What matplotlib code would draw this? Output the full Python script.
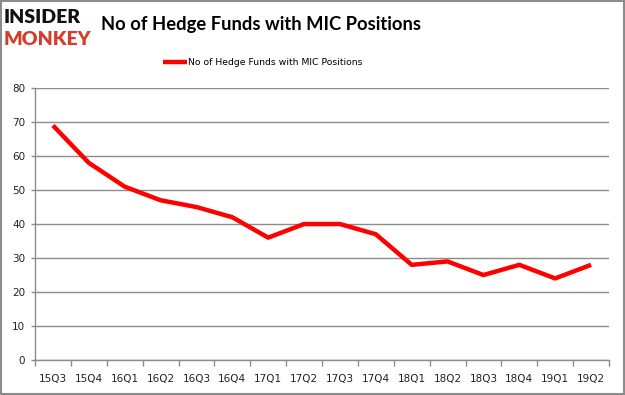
import matplotlib
matplotlib.use("Agg")
import matplotlib.pyplot as plt
from matplotlib.patches import Rectangle

quarters = ["15Q3", "15Q4", "16Q1", "16Q2", "16Q3", "16Q4", "17Q1", "17Q2",
            "17Q3", "17Q4", "18Q1", "18Q2", "18Q3", "18Q4", "19Q1", "19Q2"]
funds = [69, 58, 51, 47, 45, 42, 36, 40, 40, 37, 28, 29, 25, 28, 24, 28]
yticks = [0, 10, 20, 30, 40, 50, 60, 70, 80]
series_name = "No of Hedge Funds with MIC Positions"

fig = plt.figure(figsize=(6.25, 3.95), dpi=100)
fig.patch.set_facecolor("white")
fig.add_artist(Rectangle((0.0015, 0.0025), 0.997, 0.995, transform=fig.transFigure,
                         fill=False, edgecolor="#8c8c8c", linewidth=1.5))

ax = fig.add_axes([0.056, 0.0886, 0.9184, 0.6884])
x = list(range(len(quarters)))
ax.plot(x, funds, color="#ff0000", linewidth=3.2, solid_capstyle="butt",
        solid_joinstyle="round", label=series_name, zorder=3)

ax.set_xlim(-0.5, len(quarters) - 0.5)
ax.set_ylim(0, 80)
ax.set_yticks(yticks)
ax.set_yticklabels([str(v) for v in yticks], fontsize=7.5, family="DejaVu Sans", color="#222222")
ax.set_xticks(x)
ax.set_xticklabels(quarters, fontsize=7.5, family="DejaVu Sans", color="#222222")
ax.set_xticks([i - 0.5 for i in range(len(quarters) + 1)], minor=True)
ax.tick_params(axis="x", which="major", length=0, pad=10)
ax.tick_params(axis="x", which="minor", length=4, color="#8c8c8c", width=1)
ax.tick_params(axis="y", length=3, color="#8c8c8c", width=1, pad=4)
ax.grid(axis="y", color="#8c8c8c", linewidth=1)
for s in ["top", "right"]:
    ax.spines[s].set_visible(False)
for s in ["left", "bottom"]:
    ax.spines[s].set_color("#8c8c8c")
    ax.spines[s].set_linewidth(1)

leg = fig.legend(loc="center", bbox_to_anchor=(0.42, 0.842), frameon=False,
                 prop={"family": "DejaVu Sans", "size": 6.7}, handlelength=2.6,
                 handletextpad=0.1)

fig.text(0.4175, 0.937, series_name, ha="center", va="center", fontsize=13.2,
         fontweight="bold", family="Lato", color="black")
fig.text(0.006, 0.956, "INSIDER", ha="left", va="center", fontsize=14,
         fontweight="heavy", family="Lato", color="#111111")
fig.text(0.006, 0.9, "MONKEY", ha="left", va="center", fontsize=14,
         fontweight="heavy", family="Lato", color="#d63c2a")

fig.savefig("out.png", dpi=100, facecolor="white")
